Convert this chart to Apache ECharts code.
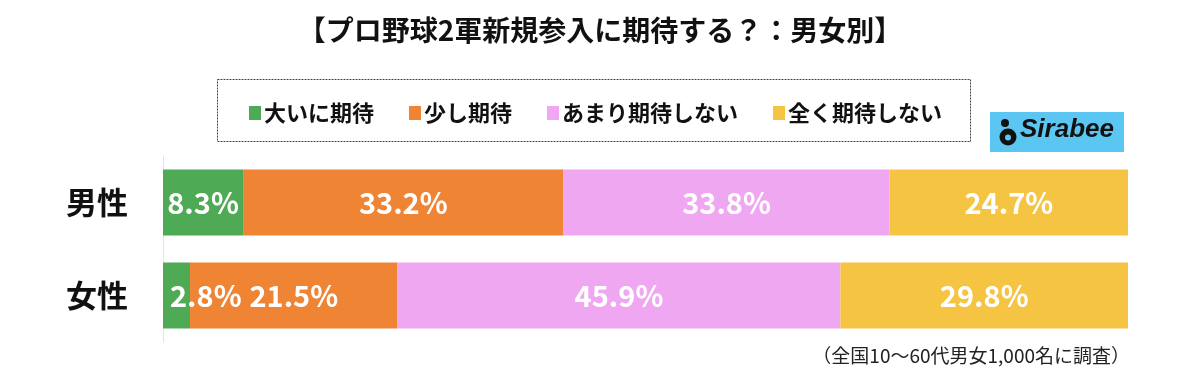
<!DOCTYPE html>
<html>
<head>
<meta charset="utf-8">
<script src="https://cdn.jsdelivr.net/npm/echarts@6/dist/echarts.min.js"></script>
<style>
html,body{margin:0;padding:0;background:#fff;}
#c{width:1200px;height:380px;}
</style>
</head>
<body>
<div id="c"></div>
<script>
const titleText = '【プロ野球2軍新規参入に期待する？：男女別】';
const footnote = '（全国10～60代男女1,000名に調査）';
const categories = ['男性', '女性'];
const seriesNames = ['大いに期待', '少し期待', 'あまり期待しない', '全く期待しない'];
const greatly = [8.3, 2.8];
const somewhat = [33.2, 21.5];
const notMuch = [33.8, 45.9];
const notAtAll = [24.7, 29.8];
const colors = ['#4faa55', '#ee8434', '#efa7f2', '#f5c443'];

const values = [greatly, somewhat, notMuch, notAtAll];
const JP = '"Noto Sans CJK JP", "Noto Sans", sans-serif';

const chart = echarts.init(document.getElementById('c'));

const series = seriesNames.map((name, i) => ({
  name: name,
  type: 'bar',
  stack: 'total',
  barWidth: 66,
  itemStyle: { color: colors[i] },
  label: {
    show: true,
    position: 'inside',
    color: '#fff',
    fontFamily: JP,
    fontWeight: 'bold',
    fontSize: 29,
    formatter: p => p.value.toFixed(1) + '%'
  },
  data: values[i].map(v => {
    if (v < 5) {
      return { value: v, label: { position: 'insideLeft', distance: 7 } };
    }
    return v;
  })
}));

chart.setOption({
  animation: false,
  title: {
    text: titleText,
    left: 'center',
    top: 11,
    textStyle: { fontFamily: JP, fontWeight: 'bold', fontSize: 28, color: '#111' }
  },
  legend: {
    data: seriesNames,
    left: 244,
    top: 97,
    icon: 'rect',
    itemWidth: 12,
    itemHeight: 14,
    itemGap: 35,
    textStyle: { fontFamily: JP, fontWeight: 'bold', fontSize: 22, color: '#111', padding: [0, 0, 0, -2] }
  },
  grid: { left: 163, right: 72, top: 156, bottom: 38 },
  xAxis: { type: 'value', min: 0, max: 100, show: false },
  yAxis: {
    type: 'category',
    data: categories,
    inverse: true,
    axisLine: { show: true, lineStyle: { color: '#e3e3e3', width: 1 } },
    axisTick: { show: false },
    axisLabel: { fontFamily: JP, fontWeight: 'bold', fontSize: 31, color: '#111', margin: 35 }
  },
  graphic: [
    {
      type: 'rect',
      shape: { x: 217.5, y: 79.5, width: 753, height: 62 },
      style: { fill: 'none', stroke: '#444', lineWidth: 1, lineDash: [2, 1] }
    },
    {
      type: 'rect',
      shape: { x: 990, y: 112, width: 134, height: 40 },
      style: { fill: '#5bc6f2' }
    },
    {
      type: 'circle',
      shape: { cx: 1008, cy: 137, r: 8.5 },
      style: { fill: '#111' }
    },
    {
      type: 'circle',
      shape: { cx: 1008, cy: 137.5, r: 3 },
      style: { fill: '#5bc6f2' }
    },
    {
      type: 'circle',
      shape: { cx: 1005, cy: 123, r: 4 },
      style: { fill: '#111' }
    },
    {
      type: 'text',
      left: 1020,
      top: 117,
      style: { text: 'Sirabee', fontFamily: '"Liberation Sans", Arial, sans-serif', fontWeight: 'bold', fontStyle: 'italic', fontSize: 26, fill: '#111' }
    },
    {
      type: 'text',
      right: 70,
      top: 346,
      style: { text: footnote, fontFamily: JP, fontSize: 19, fill: '#222' }
    }
  ],
  series: series
});
</script>
</body>
</html>
